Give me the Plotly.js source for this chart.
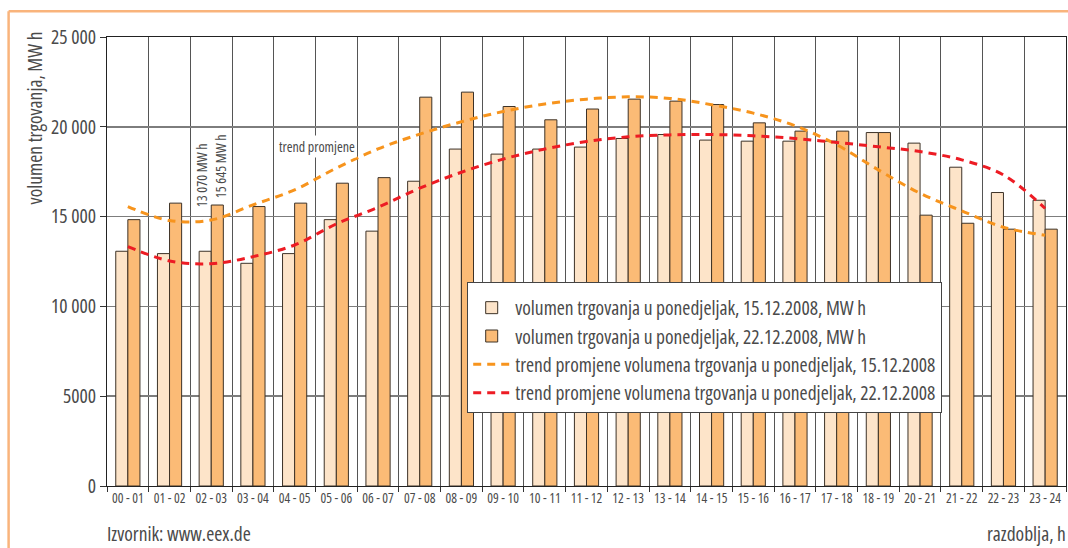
<!DOCTYPE html>
<html>
<head>
<meta charset="utf-8">
<script src="https://cdn.plot.ly/plotly-3.0.1.min.js"></script>
<style>
html,body{margin:0;padding:0;background:#fff;}
#chart{width:1068px;height:548px;}
text, tspan{font-stretch:condensed !important;}
</style>
</head>
<body>
<div id="chart"></div>
<script>
var categories = ["00 - 01","01 - 02","02 - 03","03 - 04","04 - 05","05 - 06","06 - 07","07 - 08","08 - 09","09 - 10","10 - 11","11 - 12","12 - 13","13 - 14","14 - 15","15 - 16","16 - 17","17 - 18","18 - 19","20 - 21","21 - 22","22 - 23","23 - 24"];
var vol1512 = [13070,12940,13070,12400,12940,14830,14190,16970,18760,18480,18760,18870,19350,19570,19260,19200,19200,19200,19680,19090,17750,16340,15910];
var vol2212 = [14830,15750,15645,15560,15750,16860,17170,21650,21930,21130,20390,20990,21540,21430,21240,20220,19760,19760,19680,15080,14630,14300,14300];
var trend1512 = [15560,14780,14810,15650,16490,17700,18770,19590,20280,20850,21270,21540,21670,21580,21230,20760,20060,19000,17600,16300,15320,14410,13960];
var trend2212 = [13330,12530,12380,12770,13420,14590,15520,16580,17470,18200,18760,19180,19440,19550,19570,19500,19350,19130,18890,18620,18160,17320,15450];
var yTickVals = [0,5000,10000,15000,20000,25000];
var yTickText = ["0","5000","10 000","15 000","20 000","25 000"];
var legendNames = [
  "volumen trgovanja u ponedjeljak, 15.12.2008, MW h",
  "volumen trgovanja u ponedjeljak, 22.12.2008, MW h",
  "trend promjene volumena trgovanja u ponedjeljak, 15.12.2008",
  "trend promjene volumena trgovanja u ponedjeljak, 22.12.2008"
];
var labelIdx = 2;

var FONT = "Open Sans, sans-serif";
var TXT = "#4a4a4a";

function fmt(v){ var s=String(v); return s.length>4 ? s.slice(0,s.length-3)+" "+s.slice(-3) : s; }

var traces = [
  {type:"bar", x:categories, y:vol1512, name:legendNames[0],
   marker:{color:"#FDE4C9", line:{color:"#3d3227", width:1}}},
  {type:"bar", x:categories, y:vol2212, name:legendNames[1],
   marker:{color:"#FBBB76", line:{color:"#3d3227", width:1}}},
  {type:"scatter", mode:"lines", x:categories, y:trend1512, name:legendNames[2],
   line:{color:"#F7941D", width:3, dash:"8px,6px", shape:"spline"}},
  {type:"scatter", mode:"lines", x:categories, y:trend2212, name:legendNames[3],
   line:{color:"#ED1C24", width:3, dash:"8px,6px", shape:"spline"}}
];

var layout = {
  width:1068, height:548,
  margin:{l:107, r:2, t:37, b:62},
  paper_bgcolor:"#fff", plot_bgcolor:"#fff",
  font:{family:FONT, color:TXT},
  barmode:"group", bargap:0.42, bargroupgap:0,
  showlegend:true,
  legend:{x:0.3756, y:0.4537, xanchor:"left", yanchor:"top",
    bgcolor:"#fff", bordercolor:"#444", borderwidth:1, itemwidth:37,
    title:{text:" ", font:{size:4}},
    font:{family:FONT, size:19.5, color:TXT}, traceorder:"normal"},
  xaxis:{type:"category", tickson:"boundaries", ticks:"outside", ticklen:5, tickcolor:"#333",
    tickangle:0,
    showgrid:true, gridcolor:"#555", gridwidth:1,
    showline:true, linecolor:"#222", linewidth:1, mirror:true,
    tickfont:{family:FONT, size:13.5, color:TXT}, fixedrange:true},
  yaxis:{range:[0,25000], tickvals:yTickVals, ticktext:yTickText,
    ticks:"outside", ticklen:6, tickcolor:"#333",
    showgrid:true, gridcolor:"#7d7d7d", gridwidth:1.5, zeroline:false,
    showline:true, linecolor:"#222", linewidth:1, mirror:true,
    tickfont:{family:FONT, size:19.5, color:TXT}, fixedrange:true},
  shapes:[
    {type:"line", xref:"paper", yref:"paper", x0:-0.1026, x1:1.01, y0:1.0571, y1:1.0571,
     line:{color:"#F9B47C", width:2.5}},
    {type:"line", xref:"paper", yref:"paper", x0:-0.1026, x1:-0.1026, y0:1.0571, y1:-0.2,
     line:{color:"#F9B47C", width:2.5}}
  ],
  annotations:[
    {xref:"paper", yref:"paper", x:-0.0755, y:0.82, text:"volumen trgovanja, MW h", textangle:-90,
     showarrow:false, font:{family:FONT, size:19.5, color:TXT}, xanchor:"center", yanchor:"middle"},
    {xref:"paper", yref:"paper", x:-0.002, y:-0.105, text:"Izvornik: www.eex.de", showarrow:false,
     xanchor:"left", yanchor:"middle", font:{family:FONT, size:19.5, color:TXT}},
    {xref:"paper", yref:"paper", x:1.002, y:-0.105, text:"razdoblja, h", showarrow:false,
     xanchor:"right", yanchor:"middle", font:{family:FONT, size:19.5, color:TXT}},
    {xref:"paper", yref:"paper", x:0.2185, y:0.756, text:"trend promjene", showarrow:false,
     xanchor:"center", yanchor:"middle",
     bgcolor:"#fff", borderpad:1, font:{family:FONT, size:14, color:TXT}},
    {x:categories[labelIdx], y:vol2212[labelIdx], xref:"x", yref:"y", xshift:-10, yshift:-4,
     text:fmt(vol1512[labelIdx])+" MW h", textangle:-90, showarrow:false, yanchor:"bottom",
     font:{family:FONT, size:14, color:TXT}},
    {x:categories[labelIdx], y:vol2212[labelIdx], xref:"x", yref:"y", xshift:9, yshift:5,
     text:fmt(vol2212[labelIdx])+" MW h", textangle:-90, showarrow:false, yanchor:"bottom",
     font:{family:FONT, size:14, color:TXT}}
  ]
};

Plotly.newPlot("chart", traces, layout, {displayModeBar:false, staticPlot:true});
</script>
</body>
</html>
